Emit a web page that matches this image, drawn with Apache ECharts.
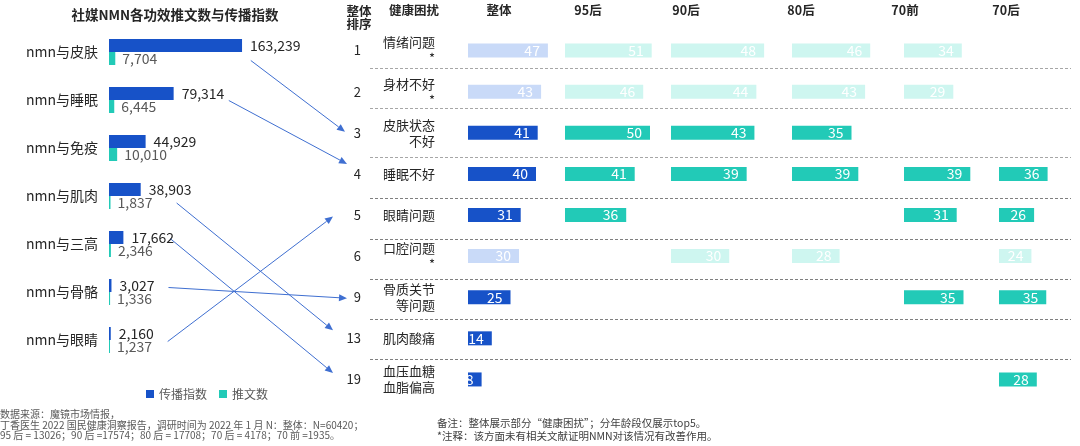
<!DOCTYPE html>
<html><head><meta charset="utf-8">
<script src="https://cdn.jsdelivr.net/npm/echarts@6/dist/echarts.min.js"></script>
<style>html,body{margin:0;padding:0;background:#fff}#c{width:1080px;height:446px}</style>
</head><body><div id="c"></div>
<script>
// ---------- data ----------
const topics = ['nmn与皮肤','nmn与睡眠','nmn与免疫','nmn与肌肉','nmn与三高','nmn与骨骼','nmn与眼睛'];
const spreadIndex = [163239, 79314, 44929, 38903, 17662, 3027, 2160];
const postCount = [7704, 6445, 10010, 1837, 2346, 1336, 1237];

const issues = ['情绪问题','身材不好','皮肤状态不好','睡眠不好','眼睛问题','口腔问题','骨质关节等问题','肌肉酸痛','血压血糖血脂偏高'];
const ranks = ['1','2','3','4','5','6','9','13','19'];
const unproven = [true, true, false, false, false, true, false, false, false];
const groupNames = ['整体','95后','90后','80后','70前','70后'];
const overall = [47, 43, 41, 40, 31, 30, 25, 14, 8];
const gen95 = [51, 46, 50, 41, 36, null, null, null, null];
const gen90 = [48, 44, 43, 39, null, 30, null, null, null];
const gen80 = [46, 43, 35, 39, null, 28, null, null, null];
const gen70pre = [34, 29, null, 39, 31, null, 35, null, null];
const gen70post = [null, null, null, 36, 26, 24, 35, null, 28];
const groupValues = [overall, gen95, gen90, gen80, gen70pre, gen70post];

const links = [
  ['nmn与皮肤', '皮肤状态不好'],
  ['nmn与睡眠', '睡眠不好'],
  ['nmn与肌肉', '肌肉酸痛'],
  ['nmn与三高', '血压血糖血脂偏高'],
  ['nmn与骨骼', '骨质关节等问题'],
  ['nmn与眼睛', '眼睛问题']
];

// ---------- layout / style ----------
const FONT = '"Noto Sans CJK SC", "Noto Sans", sans-serif';
const BLUE = '#1752C8', TEAL = '#22CAB7', LBLUE = '#C9DAF8', LTEAL = '#CEF6F0', ARROW = '#3F6FD1';
const colLeft = [468, 565, 671, 792, 904, 999];
const colPx = [1.7, 1.7, 1.94, 1.7, 1.7, 1.7];
const headerX = [499, 588, 686, 801, 905, 1006];
const colMax = 60;
const arrowAnchors = [
  {sv: 174000, sdy: 8.5, edx: -25, edy: -1},
  {sv: 147000, sdy: 0.5, edx: -23, edy: -10},
  {sv: 83000, sdy: 7, edx: -37, edy: -8},
  {sv: 75000, sdy: -5.5, edx: -37, edy: -6.5},
  {sv: 73000, sdy: -4.5, edx: -23, edy: 1},
  {sv: 72000, sdy: 1.5, edx: -37, edy: 1.5}
];
const sepShift = [-3, -4, 4, 4, 3, 2.5, 1.5, 0.5];
const TTOP = 30, THEIGHT = 370;

const fmt = v => Number(v).toLocaleString('en-US');

const grids = [{left: 109, top: 28, width: 163, height: 336}, {left: 370, top: TTOP, width: 701, height: THEIGHT}];
const xAxes = [
  {gridIndex: 0, type: 'value', min: 0, max: 200000, show: false},
  {gridIndex: 1, type: 'value', min: 0, max: 1, show: false}
];
const yAxes = [
  {gridIndex: 0, type: 'category', data: topics, inverse: true,
   axisLine: {show: false}, axisTick: {show: false},
   axisLabel: {fontSize: 14, color: '#262626', margin: 11, fontFamily: FONT}},
  {gridIndex: 1, type: 'category', data: ranks, inverse: true,
   axisLine: {show: false}, axisTick: {show: false}, splitLine: {show: false},
   axisLabel: {fontSize: 13, color: '#262626', margin: 9, interval: 0, fontFamily: FONT}},
  {gridIndex: 1, type: 'category', data: issues, inverse: true, position: 'left',
   axisLine: {show: false}, axisTick: {show: false}, splitLine: {show: false},
   axisLabel: {
     interval: 0, align: 'left', margin: -13, fontSize: 13, color: '#262626', fontFamily: FONT,
     formatter: function (v) {
       const idx = issues.indexOf(v);
       let s = '{l|' + v.slice(0, 4) + '}';
       if (v.length > 4) s += '\n{r|' + v.slice(4) + '}';
       if (unproven[idx]) s += '\n{r|*}';
       return s;
     },
     rich: {
       l: {align: 'left', fontSize: 13, color: '#262626', lineHeight: 16, fontFamily: FONT},
       r: {align: 'right', fontSize: 13, color: '#262626', lineHeight: 16, fontFamily: FONT}
     }
   }}
];
const series = [
  {type: 'bar', name: '传播指数', xAxisIndex: 0, yAxisIndex: 0, data: spreadIndex,
   barWidth: 13, barGap: '0%', itemStyle: {color: BLUE},
   label: {show: true, position: 'right', distance: 8, color: '#262626', fontSize: 14, fontFamily: FONT,
     formatter: p => fmt(p.value)}},
  {type: 'bar', name: '推文数', xAxisIndex: 0, yAxisIndex: 0, data: postCount,
   barWidth: 13, barGap: '0%', itemStyle: {color: TEAL},
   label: {show: true, position: 'right', distance: 7, color: '#595959', fontSize: 14, fontFamily: FONT,
     formatter: p => fmt(p.value)}}
];
groupValues.forEach((vals, k) => {
  grids.push({left: colLeft[k], top: TTOP, width: colPx[k] * colMax, height: THEIGHT});
  xAxes.push({gridIndex: 2 + k, type: 'value', min: 0, max: colMax, show: false});
  yAxes.push({gridIndex: 2 + k, type: 'category', data: issues, inverse: true, show: false});
  const dark = k === 0 ? BLUE : TEAL, light = k === 0 ? LBLUE : LTEAL;
  series.push({type: 'bar', xAxisIndex: 2 + k, yAxisIndex: 3 + k, data: vals, barWidth: 14,
    itemStyle: {color: p => unproven[p.dataIndex] ? light : dark},
    label: {show: true, position: 'insideRight', distance: 8, color: '#fff', fontSize: 14, fontFamily: FONT}});
});

const texts = [
  {type: 'text', x: 175, y: 15, style: {text: '社媒NMN各功效推文数与传播指数', fontSize: 13.5, fontWeight: 'bold', fontFamily: FONT, fill: '#262626', align: 'center', verticalAlign: 'middle'}},
  {type: 'text', x: 359, y: 17.5, style: {text: '整体\n排序', fontSize: 12.5, lineHeight: 13, fontWeight: 'bold', fontFamily: FONT, fill: '#262626', align: 'center', verticalAlign: 'middle'}},
  {type: 'text', x: 389, y: 10.5, style: {text: '健康困扰', fontSize: 12.5, fontWeight: 'bold', fontFamily: FONT, fill: '#262626', align: 'left', verticalAlign: 'middle'}},
  {type: 'text', x: 0, y: 409, style: {text: '数据来源：魔镜市场情报，\n丁香医生 2022 国民健康洞察报告，调研时间为 2022 年 1 月 N：整体：N=60420；\n95 后 = 13026；90 后 =17574；80 后 = 17708；70 后 = 4178；70 前 =1935。', fontSize: 10, lineHeight: 10.5, fontFamily: FONT, fill: '#595959', align: 'left', verticalAlign: 'top'}},
  {type: 'text', x: 437, y: 417, style: {text: '备注：整体展示部分“健康困扰”；分年龄段仅展示top5。\n*注释：该方面未有相关文献证明NMN对该情况有改善作用。', fontSize: 10.5, lineHeight: 12.5, fontFamily: FONT, fill: '#404040', align: 'left', verticalAlign: 'top'}}
];
groupNames.forEach((g, k) => texts.push({type: 'text', x: headerX[k], y: 10.5,
  style: {text: g, fontSize: 12.5, fontWeight: 'bold', fontFamily: FONT, fill: '#262626', align: 'center', verticalAlign: 'middle'}}));

const chart = echarts.init(document.getElementById('c'), null, {renderer: 'canvas'});
chart.setOption({
  animation: false,
  backgroundColor: '#fff',
  textStyle: {fontFamily: FONT},
  legend: {data: ['传播指数', '推文数'], left: 141, top: 383, icon: 'rect', itemWidth: 8, itemHeight: 8, itemGap: 12,
    textStyle: {fontSize: 12, color: '#595959', fontFamily: FONT}},
  grid: grids, xAxis: xAxes, yAxis: yAxes, series: series,
  graphic: texts
});

const deco = [];
// dashed row separators between table rows, positioned from the table axis
for (let i = 1; i < issues.length; i++) {
  const a = chart.convertToPixel({xAxisIndex: 1, yAxisIndex: 2}, [0, issues[i - 1]]);
  const b = chart.convertToPixel({xAxisIndex: 1, yAxisIndex: 2}, [1, issues[i]]);
  const y = Math.round((a[1] + b[1]) / 2 + sepShift[i - 1]) + 0.5;
  deco.push({type: 'line', silent: true, shape: {x1: a[0], y1: y, x2: b[0], y2: y},
    style: {stroke: i < 4 ? '#a6a6a6' : '#7f7f7f', lineWidth: 1, lineDash: [3, 2]}});
}
// arrows linking topics to table rows (positions derived from the axes)
links.forEach((lk, i) => {
  const a = arrowAnchors[i];
  const p0 = chart.convertToPixel({xAxisIndex: 0, yAxisIndex: 0}, [a.sv, lk[0]]);
  const p1 = chart.convertToPixel({xAxisIndex: 1, yAxisIndex: 2}, [0, lk[1]]);
  const x0 = p0[0], y0 = p0[1] + a.sdy, x1 = p1[0] + a.edx, y1 = p1[1] + a.edy;
  const ang = Math.atan2(y1 - y0, x1 - x0), L = 8, W = 3.5;
  const bx = x1 - L * Math.cos(ang), by = y1 - L * Math.sin(ang);
  deco.push({type: 'line', silent: true, shape: {x1: x0, y1: y0, x2: bx, y2: by}, style: {stroke: ARROW, lineWidth: 1}});
  deco.push({type: 'polygon', silent: true, shape: {points: [[x1, y1], [bx - W * Math.sin(ang), by + W * Math.cos(ang)], [bx + W * Math.sin(ang), by - W * Math.cos(ang)]]}, style: {fill: ARROW}});
});
chart.setOption({graphic: texts.concat(deco)}, {replaceMerge: ['graphic']});
</script>
</body></html>
